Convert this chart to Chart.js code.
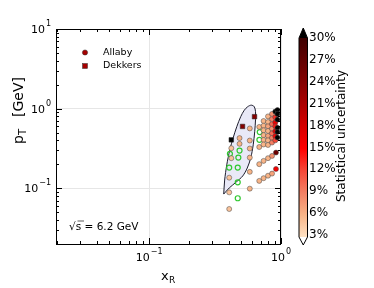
<!DOCTYPE html>
<html>
<head>
<meta charset="utf-8">
<script src="https://cdn.jsdelivr.net/npm/chart.js@4.4.0/dist/chart.umd.min.js"></script>
<style>
html, body { margin: 0; padding: 0; background: #fff; }
</style>
</head>
<body>
<canvas id="chart" width="374" height="288"></canvas>
<script>
// Allaby points, filled, coloured by statistical uncertainty (%)
const allabyX = [
    0.58, 0.485, 0.485, 0.58, 0.42, 0.58, 0.58, 0.42, 0.58, 0.405, 0.405, 0.58, 0.405,
    0.684, 0.738, 0.797, 0.855, 0.916,
    0.684, 0.738, 0.797, 0.855, 0.916,
    0.684, 0.684,
    0.738, 0.738, 0.738, 0.738, 0.738, 0.738,
    0.797, 0.797, 0.797, 0.797, 0.797, 0.797, 0.797,
    0.855, 0.855, 0.855, 0.855, 0.855, 0.855, 0.855,
    0.905, 0.905, 0.905, 0.905, 0.905, 0.905, 0.905,
    0.94, 0.94, 0.94, 0.94, 0.94, 0.94
];
const allabyY = [
    0.565, 0.427, 0.362, 0.398, 0.319, 0.316, 0.243, 0.239, 0.161, 0.136, 0.089, 0.099, 0.055,
    0.124, 0.134, 0.144, 0.153, 0.175,
    0.201, 0.221, 0.239, 0.255, 0.281,
    0.59, 0.33,
    0.70, 0.61, 0.535, 0.465, 0.405, 0.355,
    0.80, 0.68, 0.60, 0.525, 0.455, 0.40, 0.35,
    0.86, 0.74, 0.64, 0.56, 0.49, 0.43, 0.375,
    0.92, 0.78, 0.67, 0.60, 0.52, 0.45, 0.40,
    0.96, 0.86, 0.73, 0.575, 0.51, 0.435
];
const allabyErr = [
    6, 6, 6, 6, 5, 6, 6, 5, 6, 5, 5, 6, 5,
    6, 6, 6, 7, 16,
    6, 6, 6, 8, 26,
    6, 6,
    6, 6, 6, 6, 6, 6,
    6, 6, 7, 6, 7, 6, 6,
    8, 9, 10, 8, 10, 9, 9,
    31, 13, 16, 14, 17, 15, 12,
    32, 32, 32, 32, 32, 32
];
// Allaby points drawn as open green circles
const openX = [0.485, 0.41, 0.475, 0.405, 0.47, 0.47, 0.47, 0.69, 0.686];
const openY = [0.298, 0.271, 0.243, 0.182, 0.182, 0.119, 0.075, 0.508, 0.406];
// Dekkers points
const dekkersX = [0.42, 0.511, 0.63];
const dekkersY = [0.406, 0.598, 0.793];
const dekkersErr = [32, 24, 24];
// outline of the shaded region
const regionX = [0.368, 0.374, 0.388, 0.409, 0.434, 0.462, 0.495, 0.527, 0.560, 0.595, 0.627, 0.641, 0.641,
                 0.632, 0.616, 0.590, 0.555, 0.513, 0.458, 0.405, 0.368];
const regionY = [0.0847, 0.127, 0.197, 0.304, 0.431, 0.593, 0.793, 0.957, 1.06, 1.107, 1.06, 0.917, 0.726,
                 0.513, 0.352, 0.241, 0.180, 0.143, 0.120, 0.101, 0.0847];
const cbarTicks = [3, 6, 9, 12, 15, 18, 21, 24, 27, 30];

const cmapStops = [
    [3, [254, 226, 196]], [6, [248, 180, 135]], [9, [243, 128, 100]], [12, [246, 72, 56]],
    [15, [255, 0, 0]], [18, [214, 0, 0]], [21, [172, 0, 0]], [24, [132, 0, 0]],
    [27, [98, 0, 0]], [30, [62, 0, 0]]
];
function errColor(e) {
    if (e > 30) return 'rgb(0,0,0)';
    if (e < 3) return 'rgb(255,255,255)';
    for (let i = 1; i < cmapStops.length; i++) {
        const [v1, c1] = cmapStops[i];
        const [v0, c0] = cmapStops[i - 1];
        if (e <= v1) {
            const t = (e - v0) / (v1 - v0);
            const c = c0.map((ch, j) => Math.round(ch + (c1[j] - ch) * t));
            return 'rgb(' + c.join(',') + ')';
        }
    }
}

const font = 'DejaVu Sans';

function drawPow(ctx, x, y, exp, align) {
    ctx.font = '11px ' + font;
    const wb = ctx.measureText('10').width;
    ctx.font = '8px ' + font;
    const we = ctx.measureText(exp).width;
    const w = wb + we + 1;
    let x0 = align === 'center' ? x - w / 2 : x - w;
    ctx.textAlign = 'left';
    ctx.textBaseline = 'middle';
    ctx.font = '11px ' + font;
    ctx.fillText('10', x0, y);
    ctx.font = '8px ' + font;
    ctx.fillText(exp, x0 + wb + 1, y - 6);
}

const decorations = {
    id: 'decorations',
    afterDraw(chart) {
        const ctx = chart.ctx, a = chart.chartArea;
        const xs = chart.scales.x, ys = chart.scales.y;
        ctx.save();
        ctx.strokeStyle = '#000';
        ctx.fillStyle = '#000';
        ctx.lineWidth = 1;
        ctx.strokeRect(a.left + 0.5, a.top + 0.5, a.right - a.left - 1, a.bottom - a.top);

        // inward ticks on all four sides
        ctx.beginPath();
        for (let d = -2; d <= 1; d++) {
            for (let k = 1; k <= 9; k++) {
                const v = k * Math.pow(10, d);
                const len = k === 1 ? 6 : 3;
                if (v >= xs.min && v <= xs.max * 1.0001) {
                    const px = Math.round(xs.getPixelForValue(v)) + 0.5;
                    ctx.moveTo(px, a.bottom); ctx.lineTo(px, a.bottom - len);
                    ctx.moveTo(px, a.top); ctx.lineTo(px, a.top + len);
                }
                if (v >= ys.min && v <= ys.max * 1.0001) {
                    const py = Math.round(ys.getPixelForValue(v)) + 0.5;
                    ctx.moveTo(a.left, py); ctx.lineTo(a.left + len, py);
                    ctx.moveTo(a.right, py); ctx.lineTo(a.right - len, py);
                }
            }
        }
        ctx.stroke();

        // tick labels
        drawPow(ctx, xs.getPixelForValue(0.1), 258, '\u22121', 'center');
        drawPow(ctx, xs.getPixelForValue(1), 258, '0', 'center');
        drawPow(ctx, 51, ys.getPixelForValue(10) + 1, '1', 'right');
        drawPow(ctx, 51, ys.getPixelForValue(1) + 1, '0', 'right');
        drawPow(ctx, 51, ys.getPixelForValue(0.1) + 1, '\u22121', 'right');

        // axis titles
        ctx.textBaseline = 'alphabetic';
        ctx.textAlign = 'left';
        ctx.font = '13px ' + font;
        ctx.fillText('x', 161, 280);
        ctx.font = '9px ' + font;
        ctx.fillText('R', 169, 283);

        ctx.save();
        ctx.translate(23, 144);
        ctx.rotate(-Math.PI / 2);
        ctx.font = '14px ' + font;
        ctx.fillText('p', 0, 0);
        const wp = ctx.measureText('p').width;
        ctx.font = '10px ' + font;
        ctx.fillText('T', wp, 3);
        const wt = ctx.measureText('T').width;
        ctx.font = '14px ' + font;
        ctx.fillText('[GeV]', wp + wt + 12, 0);
        ctx.restore();

        // legend
        ctx.fillStyle = '#a50000';
        ctx.strokeStyle = '#333';
        ctx.lineWidth = 0.5;
        ctx.beginPath();
        ctx.arc(85, 52.5, 2.6, 0, Math.PI * 2);
        ctx.fill(); ctx.stroke();
        ctx.fillRect(82.5, 63.5, 5, 5);
        ctx.strokeRect(82.5, 63.5, 5, 5);
        ctx.fillStyle = '#000';
        ctx.font = '9.5px ' + font;
        ctx.textBaseline = 'middle';
        ctx.fillText('Allaby', 103, 52.5);
        ctx.fillText('Dekkers', 103, 66);

        // energy text
        ctx.font = '10.5px ' + font;
        ctx.fillText('\u221As = 6.2 GeV', 69, 227);
        ctx.lineWidth = 0.8;
        ctx.beginPath();
        ctx.moveTo(77.5, 221); ctx.lineTo(84, 221);
        ctx.stroke();

        // colour bar
        const cx0 = 299, cx1 = 307.5, cTop = 38, cBot = 237;
        const grad = ctx.createLinearGradient(0, cBot, 0, cTop);
        cmapStops.forEach(([v]) => grad.addColorStop((v - 3) / 27, errColor(v)));
        ctx.fillStyle = grad;
        ctx.fillRect(cx0, cTop, cx1 - cx0, cBot - cTop);
        ctx.fillStyle = '#000';
        ctx.beginPath();
        ctx.moveTo(cx0, cTop); ctx.lineTo((cx0 + cx1) / 2, cTop - 10); ctx.lineTo(cx1, cTop); ctx.closePath();
        ctx.fill();
        ctx.fillStyle = '#fff';
        ctx.beginPath();
        ctx.moveTo(cx0, cBot); ctx.lineTo((cx0 + cx1) / 2, cBot + 8); ctx.lineTo(cx1, cBot); ctx.closePath();
        ctx.fill();
        ctx.strokeStyle = '#000';
        ctx.lineWidth = 1;
        ctx.beginPath();
        ctx.moveTo(cx0, cTop); ctx.lineTo((cx0 + cx1) / 2, cTop - 10); ctx.lineTo(cx1, cTop);
        ctx.lineTo(cx1, cBot); ctx.lineTo((cx0 + cx1) / 2, cBot + 8); ctx.lineTo(cx0, cBot);
        ctx.closePath();
        ctx.stroke();

        ctx.fillStyle = '#000';
        ctx.font = '12px ' + font;
        ctx.textBaseline = 'middle';
        ctx.textAlign = 'left';
        cbarTicks.forEach(v => {
            const py = cBot - 2 - (v - 3) / 27 * (cBot - 2 - cTop);
            ctx.fillText(v + '%', 309, py);
        });

        ctx.save();
        ctx.translate(342, 136);
        ctx.rotate(-Math.PI / 2);
        ctx.textAlign = 'center';
        ctx.font = '12px ' + font;
        ctx.fillText('Statistical uncertainty', 0, 0);
        ctx.restore();

        ctx.restore();
    }
};

function isDecade(v) {
    const l = Math.log10(v);
    return Math.abs(l - Math.round(l)) < 1e-6;
}

new Chart(document.getElementById('chart').getContext('2d'), {
    type: 'scatter',
    data: {
        datasets: [
            {
                label: 'Allaby',
                data: allabyX.map((x, i) => ({ x: x, y: allabyY[i] })),
                backgroundColor: allabyErr.map(errColor),
                borderColor: 'rgba(70,70,70,0.85)',
                borderWidth: 0.6,
                pointRadius: 2.5,
                order: 1
            },
            {
                label: 'Allaby (open)',
                data: openX.map((x, i) => ({ x: x, y: openY[i] })),
                backgroundColor: 'rgba(255,255,255,0)',
                borderColor: '#30c830',
                borderWidth: 1.2,
                pointRadius: 2.5,
                order: 2
            },
            {
                label: 'Dekkers',
                data: dekkersX.map((x, i) => ({ x: x, y: dekkersY[i] })),
                backgroundColor: dekkersErr.map(errColor),
                borderColor: 'rgba(40,40,40,0.9)',
                borderWidth: 0.6,
                pointStyle: 'rect',
                pointRadius: 3.2,
                order: 0
            },
            {
                label: 'region',
                type: 'line',
                data: regionX.map((x, i) => ({ x: x, y: regionY[i] })),
                showLine: true,
                fill: 'shape',
                backgroundColor: '#e9e9f7',
                borderColor: '#1c1c2c',
                borderWidth: 1,
                pointRadius: 0,
                tension: 0.3,
                order: 10
            }
        ]
    },
    options: {
        responsive: false,
        animation: false,
        layout: { padding: { left: 56, right: 93, top: 29, bottom: 44 } },
        plugins: {
            legend: { display: false },
            tooltip: { enabled: false }
        },
        scales: {
            x: {
                type: 'logarithmic',
                min: 0.0197,
                max: 1,
                ticks: { display: false },
                border: { display: false },
                grid: {
                    drawTicks: false,
                    color: c => (c.tick && isDecade(c.tick.value)) ? '#e6e6e6' : 'rgba(0,0,0,0)'
                }
            },
            y: {
                type: 'logarithmic',
                min: 0.02,
                max: 10,
                ticks: { display: false },
                border: { display: false },
                grid: {
                    drawTicks: false,
                    color: c => (c.tick && isDecade(c.tick.value)) ? '#e6e6e6' : 'rgba(0,0,0,0)'
                }
            }
        }
    },
    plugins: [decorations]
});
</script>
</body>
</html>
